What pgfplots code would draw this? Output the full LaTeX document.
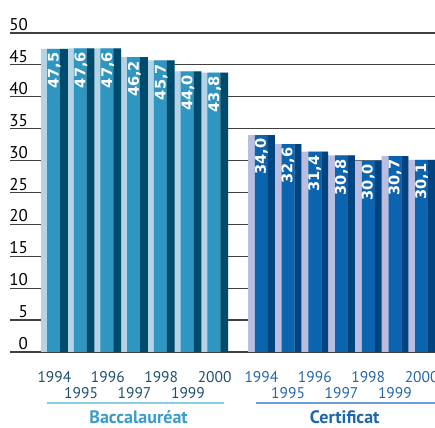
\documentclass[border=0pt]{standalone}
\usepackage{pgfplots}
\usepackage{pgfplotstable}
\pgfplotsset{compat=1.18}
\usepackage{fontspec}
\setmainfont{PT Sans}
\newfontfamily\valfont{DejaVu Sans}

\definecolor{bacL}{HTML}{B4D3E4}
\definecolor{bacM}{HTML}{2F95C1}
\definecolor{bacD}{HTML}{004B6B}
\definecolor{cerL}{HTML}{B9BDE0}
\definecolor{cerM}{HTML}{0B64AD}
\definecolor{cerD}{HTML}{00437F}
\definecolor{bacT}{HTML}{3A9CCC}
\definecolor{cerT}{HTML}{1C67AD}
\definecolor{bacY}{HTML}{1E506E}
\definecolor{cerY}{HTML}{2566A6}
\definecolor{bacLine}{HTML}{8CCDE6}
\definecolor{cerLine}{HTML}{6B9FD4}

% Baccalaureat 1994-2000
\pgfplotstableread{
x y
0 47.5
1 47.6
2 47.6
3 46.2
4 45.7
5 44.0
6 43.8
}\bac
% Certificat 1994-2000
\pgfplotstableread{
x y
7.75 34.0
8.75 32.6
9.75 31.4
10.75 30.8
11.75 30.0
12.75 30.7
13.75 30.1
}\cer

\begin{document}
\begin{tikzpicture}
\begin{axis}[
    scale only axis, width=425bp, height=319bp,
    xmin=-1.663, xmax=14.25, ymin=0, ymax=50,
    clip=false,
    axis line style={draw=none},
    major tick length=0,
    ytick={0,5,...,50},
    ymajorgrids, grid style={black!75, line width=1.2bp},
    /pgf/number format/assume math mode=true,
    yticklabel style={anchor=south east, xshift=20bp, inner sep=2bp,
        font=\fontsize{17bp}{19bp}\selectfont},
    xtick={0,2,4,6,7.75,9.75,11.75,13.75},
    xticklabels={\textcolor{bacY}{1994},\textcolor{bacY}{1996},\textcolor{bacY}{1998},\textcolor{bacY}{2000},
        \textcolor{cerY}{1994},\textcolor{cerY}{1996},\textcolor{cerY}{1998},\textcolor{cerY}{2000}},
    xticklabel style={anchor=center, yshift=-25.5bp, inner sep=0pt,
        font=\fontsize{15.5bp}{17bp}\selectfont},
    extra x ticks={1,3,5,8.75,10.75,12.75},
    extra x tick labels={\textcolor{bacY}{1995},\textcolor{bacY}{1997},\textcolor{bacY}{1999},
        \textcolor{cerY}{1995},\textcolor{cerY}{1997},\textcolor{cerY}{1999}},
    extra x tick style={grid=none, xticklabel style={yshift=-16bp}},
    value/.style={
        nodes near coords={\pgfmathprintnumber[assume math mode=true,use comma,fixed,fixed zerofill,precision=1]{\pgfplotspointmeta}},
        nodes near coords style={rotate=90, anchor=east, text=white, inner sep=3.5bp,
            font=\valfont\bfseries\fontsize{14.6bp}{16bp}\selectfont}},
]
% Baccalaureat bars: light face, front, dark side
\addplot[ybar, bar width=1, bar shift=0, fill=bacL, draw=none] table {\bac};
\addplot[ybar, bar width=0.485, bar shift=-0.0325, fill=bacM, draw=none, value] table {\bac};
\addplot[ybar, bar width=0.29, bar shift=0.355, fill=bacD, draw=none] table {\bac};
% Certificat bars
\addplot[ybar, bar width=1, bar shift=0, fill=cerL, draw=none] table {\cer};
\addplot[ybar, bar width=0.485, bar shift=0.0025, fill=cerM, draw=none, value] table {\cer};
\addplot[ybar, bar width=0.255, bar shift=0.3725, fill=cerD, draw=none] table {\cer};

% group underlines and names
\draw[bacLine, line width=1.8bp] ([yshift=-51.3bp]axis cs:-0.28,0) -- ([yshift=-51.3bp]axis cs:6.35,0);
\draw[cerLine, line width=1.8bp] ([yshift=-51.3bp]axis cs:7.55,0) -- ([yshift=-51.3bp]axis cs:14.25,0);
\node[anchor=base, text=bacT, inner sep=0pt, font=\bfseries\fontsize{18bp}{20bp}\selectfont]
    at ([yshift=-72bp]axis cs:3.15,0) {Baccalauréat};
\node[anchor=base, text=cerT, inner sep=0pt, font=\bfseries\fontsize{18bp}{20bp}\selectfont]
    at ([yshift=-72bp]axis cs:10.87,0) {Certificat};

\coordinate (bl) at (rel axis cs:0,0);
\coordinate (tr) at (rel axis cs:1,1);
\end{axis}
\pgfresetboundingbox
\path ([xshift=-10bp,yshift=-76bp]bl) rectangle ([yshift=33bp]tr);
\end{tikzpicture}
\end{document}
